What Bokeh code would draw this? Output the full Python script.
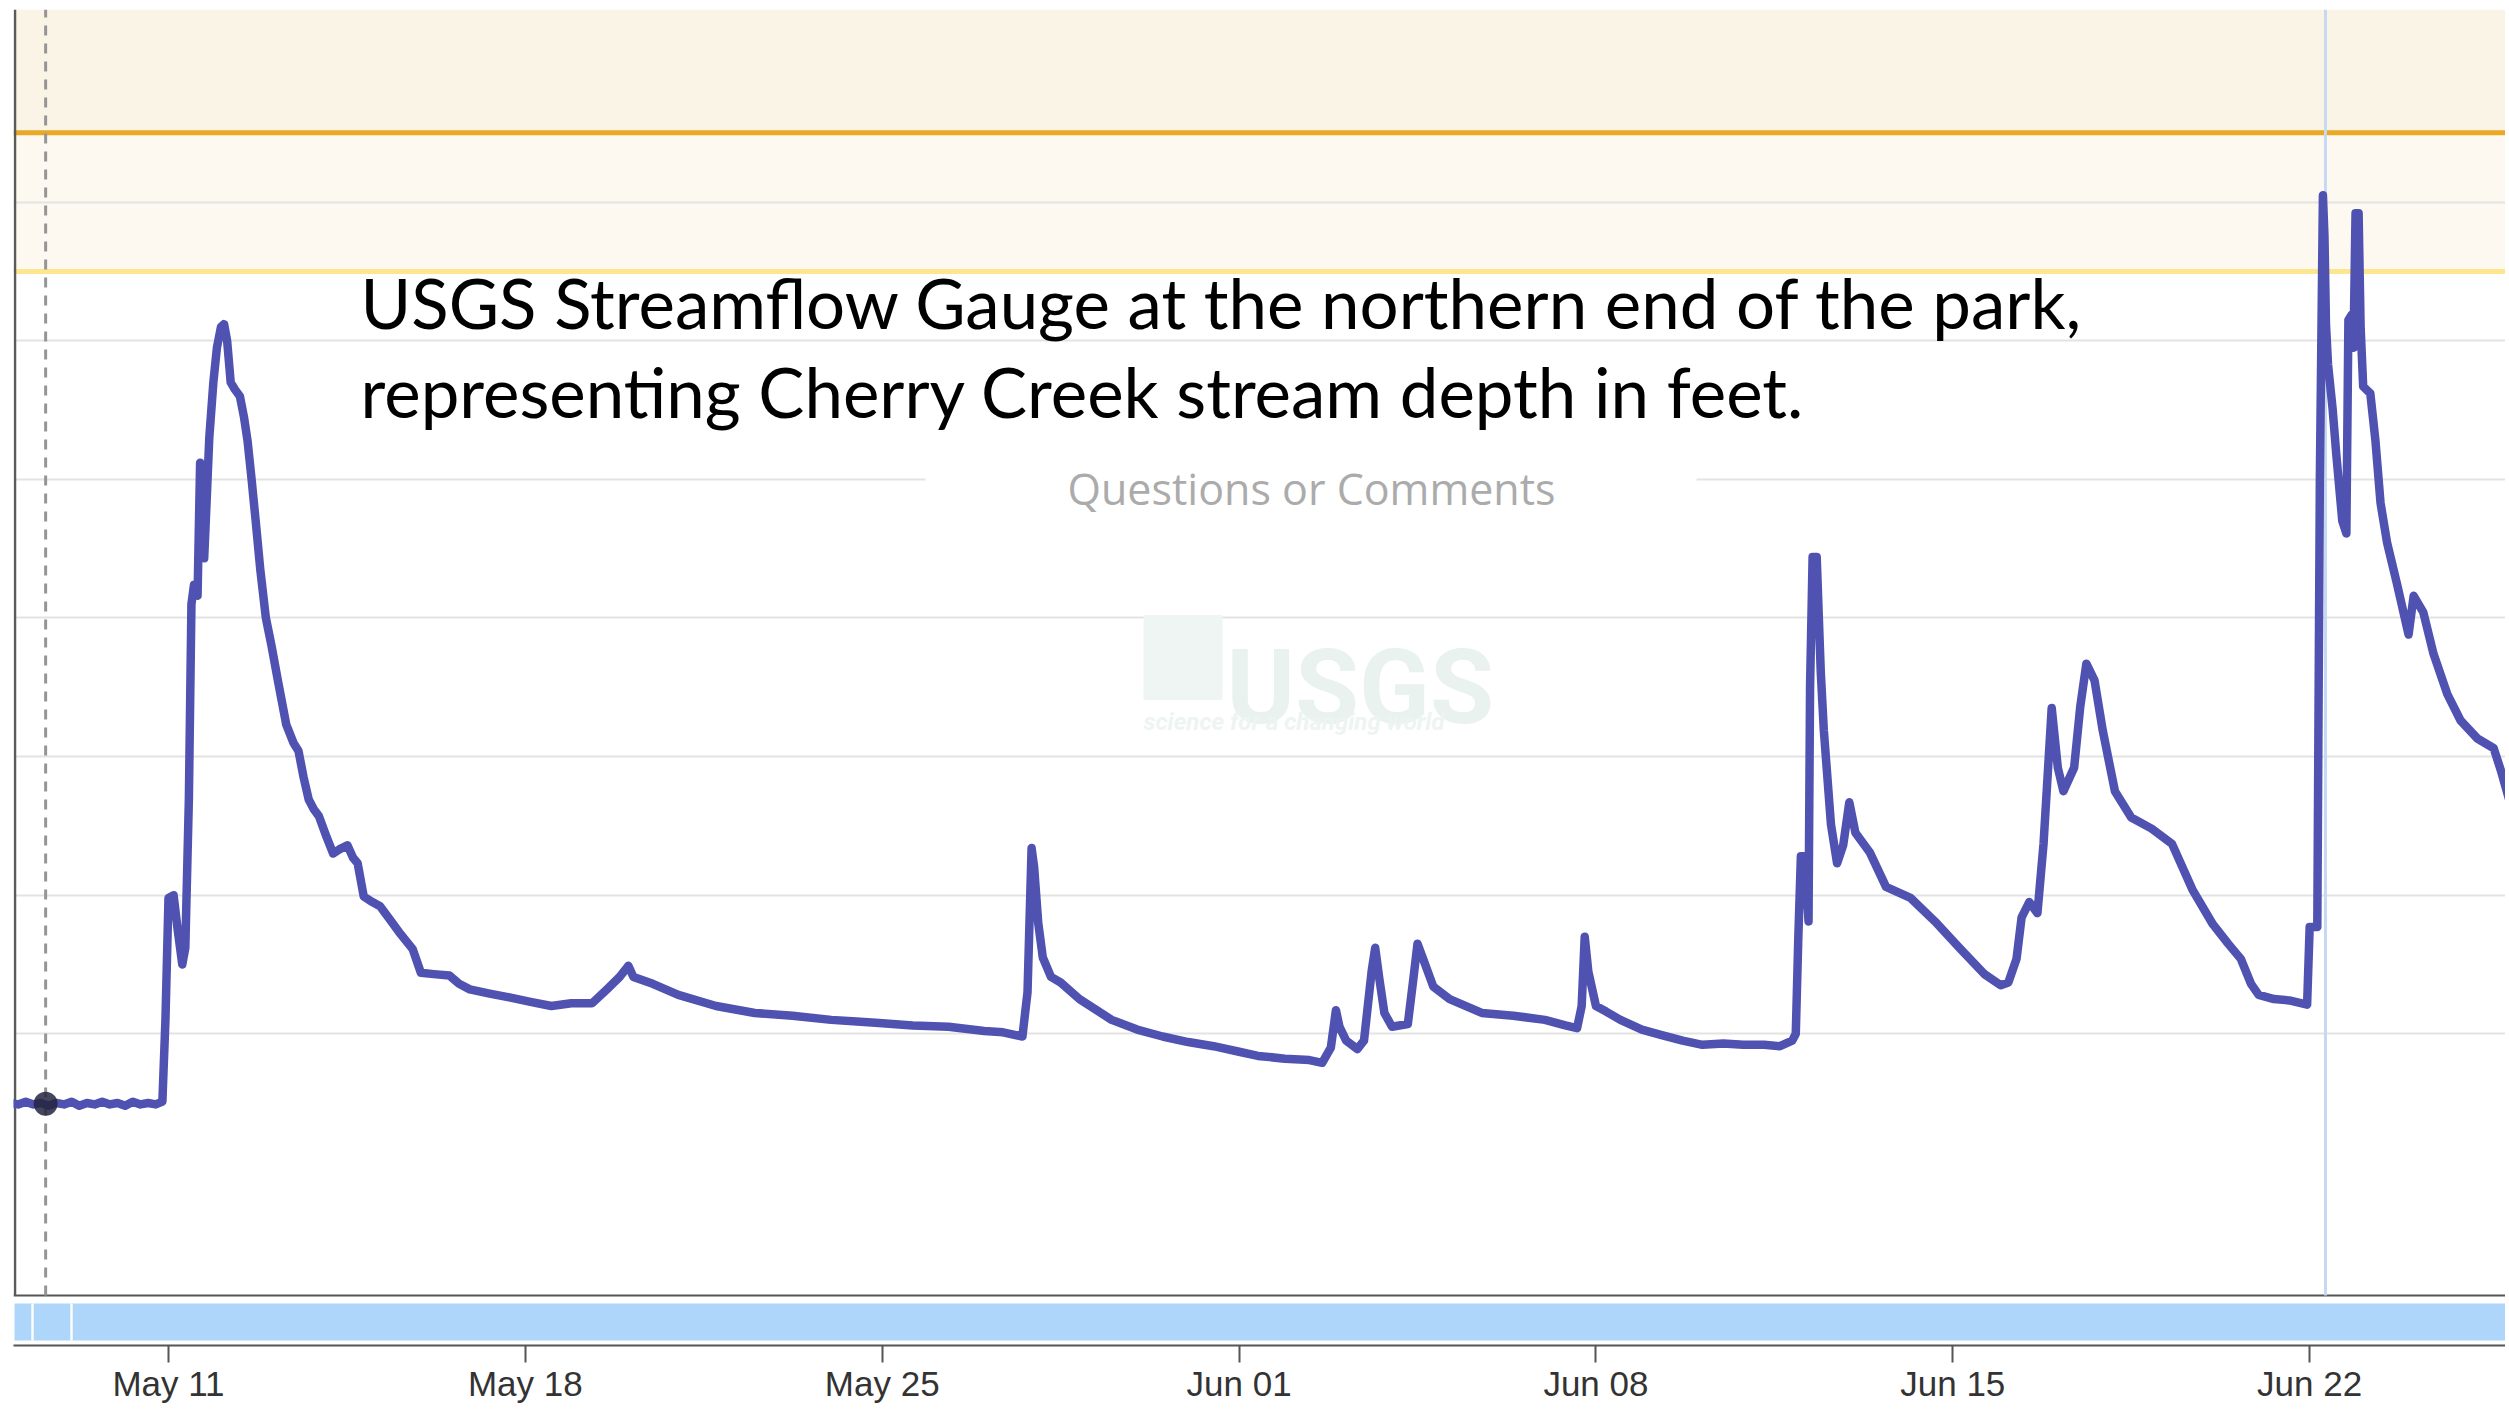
import pandas as pd
from bokeh.plotting import figure
from bokeh.models import (Range1d, FixedTicker, DatetimeTickFormatter, BoxAnnotation,
                          Span, Label, ColumnDataSource)
from bokeh.embed import file_html
from bokeh.resources import INLINE

# ---------------- data ----------------
START = "2023-05-11"            # day_offset 0 = May 11, 00:00
day_offset = [
    -3.10, -2.95, -2.80, -2.65, -2.50, -2.35, -2.20, -2.05, -1.90, -1.75, -1.60, -1.45,
    -1.30, -1.15, -1.00, -0.85, -0.70, -0.55, -0.40, -0.25, -0.12,
    -0.06, 0.00, 0.10, 0.18, 0.27, 0.33, 0.40, 0.45, 0.50, 0.57, 0.62, 0.66, 0.70, 0.76,
    0.80, 0.88, 0.95, 1.03, 1.09, 1.15, 1.22, 1.30, 1.40, 1.48, 1.55, 1.63, 1.71, 1.80,
    1.91, 2.02, 2.15, 2.31, 2.45, 2.55, 2.65, 2.75, 2.85, 2.95, 3.10, 3.23, 3.35, 3.51,
    3.62, 3.71, 3.83, 4.00, 4.15, 4.35, 4.55, 4.79, 4.95, 5.20, 5.51, 5.70, 5.91, 6.30,
    6.71, 7.10, 7.51, 7.90, 8.31, 8.60, 8.85, 9.02, 9.12, 9.50, 10.00, 10.74, 11.50,
    12.24, 13.00, 13.87, 14.60, 15.30, 16.00, 16.37, 16.75, 16.85, 16.93, 16.98, 17.06,
    17.15, 17.31, 17.50, 17.87, 18.50, 19.00, 19.50, 20.00, 20.50, 21.00, 21.37, 21.90,
    22.38, 22.63, 22.80, 22.90, 22.97, 23.10, 23.32, 23.45, 23.60, 23.67, 23.75, 23.85,
    24.00, 24.31, 24.42, 24.50, 24.60, 24.81, 25.13, 25.76, 26.38, 27.00, 27.40, 27.63,
    27.72, 27.78, 27.85, 28.00, 28.20, 28.48, 28.90, 29.29, 29.70, 30.09, 30.50, 30.89,
    31.30, 31.61, 31.85, 31.92, 31.97, 32.02, 32.10, 32.17, 32.20, 32.25, 32.33, 32.41,
    32.47, 32.61, 32.73, 32.85, 32.97, 33.09, 33.37, 33.69, 34.17, 34.65, 35.13, 35.62,
    35.94, 36.09, 36.25, 36.35, 36.50, 36.66, 36.78, 36.94, 37.06, 37.17, 37.38, 37.50,
    37.62, 37.78, 37.94, 38.18, 38.50, 38.90, 39.30, 39.70, 40.10, 40.40, 40.65, 40.85,
    41.00, 41.30, 41.60, 41.95, 42.00, 42.15, 42.20, 42.26, 42.29, 42.32, 42.36, 42.45,
    42.52, 42.64, 42.72, 42.76, 42.83, 42.86, 42.90, 42.96, 43.00, 43.05, 43.19, 43.29,
    43.39, 43.52, 43.71, 43.94, 44.04, 44.23, 44.43, 44.70, 44.96, 45.29, 45.61, 45.75,
    45.92, 46.10,
]
stage_ft = [
    2.50, 2.49, 2.51, 2.49, 2.50, 2.48, 2.50, 2.49, 2.51, 2.48, 2.50, 2.49,
    2.51, 2.49, 2.50, 2.48, 2.51, 2.49, 2.50, 2.49, 2.51,
    3.10, 3.98, 4.00, 3.75, 3.50, 3.62, 4.70, 6.10, 6.24, 6.16, 7.12, 6.90, 6.43, 6.95,
    7.30, 7.70, 7.95, 8.10, 8.12, 8.00, 7.70, 7.65, 7.60, 7.45, 7.28, 7.00, 6.70, 6.35,
    6.00, 5.80, 5.54, 5.23, 5.10, 5.04, 4.85, 4.69, 4.62, 4.57, 4.42, 4.30, 4.33, 4.36,
    4.27, 4.23, 3.99, 3.95, 3.92, 3.82, 3.72, 3.61, 3.44, 3.43, 3.42, 3.36, 3.32, 3.29,
    3.26, 3.23, 3.20, 3.22, 3.22, 3.32, 3.41, 3.49, 3.41, 3.36, 3.28, 3.20, 3.15,
    3.13, 3.10, 3.08, 3.06, 3.05, 3.02, 3.01, 2.98, 3.30, 4.34, 4.20, 3.80,
    3.55, 3.41, 3.37, 3.25, 3.10, 3.03, 2.98, 2.94, 2.91, 2.87, 2.84, 2.82,
    2.81, 2.79, 2.90, 3.17, 3.05, 2.95, 2.89, 2.95, 3.45, 3.62, 3.40, 3.15,
    3.05, 3.07, 3.40, 3.65, 3.55, 3.34, 3.25, 3.15, 3.13, 3.10, 3.06, 3.04,
    3.20, 3.70, 3.45, 3.20, 3.16, 3.10, 3.03, 2.99, 2.95, 2.92, 2.93, 2.92,
    2.92, 2.91, 2.95, 3.00, 3.70, 4.28, 4.28, 3.81, 5.50, 6.44, 6.44, 5.61,
    5.19, 4.51, 4.23, 4.36, 4.67, 4.45, 4.31, 4.06, 3.98, 3.81, 3.62, 3.43,
    3.35, 3.37, 3.54, 3.84, 3.95, 3.87, 4.37, 5.35, 4.92, 4.75, 4.92, 5.36,
    5.67, 5.55, 5.19, 4.75, 4.56, 4.48, 4.37, 4.04, 3.79, 3.65, 3.54, 3.36,
    3.28, 3.25, 3.24, 3.21, 3.77, 3.77, 7.00, 9.05, 8.76, 8.12, 7.83, 7.51,
    7.19, 6.70, 6.61, 8.15, 8.19, 7.95, 8.92, 8.92, 8.09, 7.67, 7.62, 7.28,
    6.83, 6.54, 6.25, 5.88, 6.16, 6.04, 5.74, 5.45, 5.26, 5.13, 5.06, 4.90,
    4.68, 4.60,
]
tick_dates = ["2023-05-11", "2023-05-18", "2023-05-25", "2023-06-01",
              "2023-06-08", "2023-06-15", "2023-06-22"]
grid_levels = [3, 4, 5, 6, 7, 8, 9]
action_stage = 8.5
flood_stage = 9.5
cursor_offset = -2.41      # hovered point (dashed line + dot)
cursor_stage = 2.495
now_offset = 42.31         # light-blue vertical marker
title_lines = ["USGS Streamflow Gauge at the northern end of the park,",
               "representing Cherry Creek stream depth in feet."]
watermark_text = "Questions or Comments"
logo_text = "USGS"
logo_tagline = "science for a changing world"

# ---------------- geometry helpers (canvas pixels -> data) ----------------
T0 = pd.Timestamp(START)
PX_TICK0 = 168.0          # x of May 11
PX_PER_DAY = 50.98
PY_3FT = 1034.0           # y of the 3 ft gridline
PX_PER_FT = 138.7


def px_x(px):
    return (T0 + pd.Timedelta(days=(px - PX_TICK0) / PX_PER_DAY)).value / 1e6


def px_y(py):
    return 3.0 - (py - PY_3FT) / PX_PER_FT


def off_x(d):
    return (T0 + pd.Timedelta(days=d)).value / 1e6


W, H = 2505, 1405
FRAME_L, FRAME_R, FRAME_T, FRAME_B = 13, W, 9, 1346

times = T0 + pd.to_timedelta(day_offset, unit="D")
src = ColumnDataSource(dict(t=times, v=stage_ft))

p = figure(width=W, height=H, x_axis_type="datetime",
           x_range=Range1d(px_x(FRAME_L), px_x(FRAME_R)),
           y_range=Range1d(px_y(FRAME_B), px_y(FRAME_T)),
           output_backend="svg", toolbar_location=None,
           min_border_left=FRAME_L, min_border_right=0,
           min_border_top=FRAME_T, min_border_bottom=H - FRAME_B)
p.outline_line_color = None
p.background_fill_color = "white"
p.border_fill_color = "white"
p.yaxis.visible = False
p.xgrid.visible = False
p.ygrid.ticker = FixedTicker(ticks=grid_levels)
p.ygrid.grid_line_color = "#e3e3e3"
p.ygrid.grid_line_width = 2

# x axis
ax = p.xaxis[0]
ax.ticker = FixedTicker(ticks=[pd.Timestamp(t).value / 1e6 for t in tick_dates])
fmt = "%b %d"
ax.formatter = DatetimeTickFormatter(days=fmt, months=fmt, years=fmt, hours=fmt,
                                     hourmin=fmt, minutes=fmt, seconds=fmt)
ax.axis_line_color = "#555555"
ax.axis_line_width = 2
ax.major_tick_line_color = "#555555"
ax.major_tick_line_width = 2
ax.major_tick_out = 17
ax.major_tick_in = 0
ax.minor_tick_out = 0
ax.minor_tick_in = 0
ax.major_label_text_font = "Liberation Sans"
ax.major_label_text_font_size = "35px"
ax.major_label_text_color = "#333333"
ax.major_label_standoff = 1

# stage bands (below grid)
p.add_layout(BoxAnnotation(bottom=flood_stage, fill_color="#faf4e6", fill_alpha=1,
                           line_color=None, level="image"))
p.add_layout(BoxAnnotation(bottom=action_stage, top=flood_stage, fill_color="#fdf9f1",
                           fill_alpha=1, line_color=None, level="image"))
p.add_layout(Span(location=flood_stage, dimension="width", line_color="#e9a826",
                  line_width=5, level="underlay"))
p.add_layout(Span(location=action_stage, dimension="width", line_color="#fde68d",
                  line_width=5, level="underlay"))

# bottom of main chart + navigator strip
p.add_layout(Span(location=px_y(1296), dimension="width", line_color="#555555",
                  line_width=2, level="underlay"))
p.add_layout(BoxAnnotation(left=px_x(14), top=px_y(1304), bottom=px_y(1341),
                           fill_color="#aed6fb", fill_alpha=1, line_color=None,
                           level="underlay"))
for sep in (32, 71):
    p.add_layout(BoxAnnotation(left=px_x(sep - 1.2), right=px_x(sep + 1.2),
                               top=px_y(1304), bottom=px_y(1341), fill_color="white",
                               fill_alpha=1, line_color=None, level="underlay"))

# white box behind the watermark caption
p.add_layout(BoxAnnotation(left=px_x(925), right=px_x(1696), top=px_y(447),
                           bottom=px_y(528), fill_color="white", fill_alpha=1,
                           line_color=None, level="underlay"))

# faint USGS logo
p.add_layout(BoxAnnotation(left=px_x(1143), right=px_x(1222), top=px_y(615),
                           bottom=px_y(700), fill_color="#eef5f2", fill_alpha=1,
                           line_color=None, level="underlay"))
p.add_layout(Label(x=px_x(1226), y=px_y(688), text=logo_text,
                   text_font="Roboto", text_font_style="bold",
                   text_font_size="104px", text_color="#e9f2ee",
                   text_baseline="alphabetic", level="underlay"))
p.add_layout(Label(x=px_x(1143), y=px_y(722), text=logo_tagline,
                   text_font="Roboto", text_font_style="bold italic",
                   text_font_size="24px", text_color="#edf4f1",
                   text_baseline="alphabetic", level="underlay"))

# left frame line and vertical markers
top_v = px_y(FRAME_T)
base_v = px_y(1296)
p.segment(x0=[px_x(14.5)], y0=[base_v], x1=[px_x(14.5)], y1=[top_v],
          line_color="#5a5a5a", line_width=2.5)
p.segment(x0=[off_x(cursor_offset)], y0=[base_v], x1=[off_x(cursor_offset)], y1=[top_v],
          line_color="#959595", line_width=3, line_dash="10 8")
p.segment(x0=[off_x(now_offset)], y0=[base_v], x1=[off_x(now_offset)], y1=[top_v],
          line_color="#c6d8f2", line_width=3)

# the gauge series
p.line(x="t", y="v", source=src, line_color="#4f52b0", line_width=8.5,
       line_join="round")
p.scatter(x=[off_x(cursor_offset)], y=[cursor_stage], size=24,
          fill_color="#25253e", fill_alpha=0.85, line_color=None)

# texts
p.add_layout(Label(x=px_x(1067), y=px_y(488), text=watermark_text, text_font="Open Sans",
                   text_font_size="43px", text_color="#ababab", text_baseline="alphabetic"))
for i, line in enumerate(title_lines):
    p.add_layout(Label(x=px_x(360), y=px_y(302 + 89 * i), text=line, text_font="Lato",
                       text_font_size="69px", text_color="#000000",
                       text_baseline="alphabetic"))

open("out.html", "w").write(file_html(p, INLINE))
